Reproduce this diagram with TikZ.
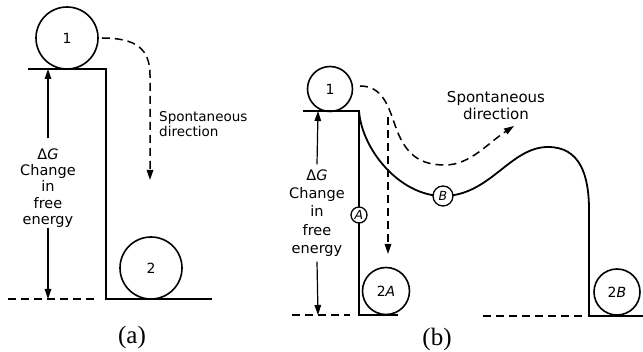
\documentclass[tikz,border=0pt]{standalone}
\usepackage{fontspec}
\setmainfont{DejaVu Sans}
\newfontfamily\capfont{Liberation Serif}
\usetikzlibrary{arrows.meta}

\tikzset{
  ln/.style={line width=1.8pt, line cap=butt},
  thin ln/.style={line width=1.2pt},
  dln/.style={line width=1.5pt, dash pattern=on 8pt off 5pt},
  tip/.style={-{Triangle[length=10pt,width=6.5pt]}},
  ball/.style={circle, draw, line width=1.6pt, inner sep=0pt, font=\fontsize{14}{14}\selectfont},
  tag/.style={circle, draw, fill=white, line width=1.3pt, inner sep=0pt, minimum size=16pt, font=\fontsize{12.5}{12.5}\selectfont\itshape},
  lbl/.style={inner sep=0pt, align=center},
  figcaption/.style={inner sep=0pt, font=\capfont\fontsize{25}{25}\selectfont}
}

\begin{document}
\begin{tikzpicture}[x=1pt, y=-1pt]
\useasboundingbox[fill=white] (0,0) rectangle (643,352);

% ---------------- (a): a single downhill step ----------------
\draw[ln] (28,69) -- (106,69) -- (106,299) -- (212,299);
\draw[dln] (8,299) -- (97,299);

\node[ball, minimum size=62pt] (b1a) at (67,38) {1};
\node[ball, minimum size=62pt] (b2a) at (151,268) {2};

\node[lbl, font=\fontsize{14.5}{16.3}\selectfont] (dga) at (48,188)
  {Δ\textit{G}\\Change\\in\\free\\energy};
\coordinate (topa) at (48,69);
\coordinate (bota) at (48,299);
\draw[thin ln, tip] ([yshift=10pt]dga.north) -- (topa);
\draw[thin ln, tip] (dga.south) -- (bota);

\coordinate (tipa) at (150,180);
\draw[dln, tip] ([xshift=3pt]b1a.east) .. controls (135,38) and (150,48) .. (150,75) -- (tipa);
\node[lbl, align=left, anchor=north west, font=\fontsize{13.5}{15}\selectfont] (spa) at (159,111)
  {Spontaneous\\direction};

\node[figcaption] (capa) at (132,337) {(a)};

% ---------------- (b): two paths downhill ----------------
\draw[ln] (303,111) -- (359,111) -- (359,315) -- (398,315);
\draw[ln] (359,111) .. controls (362,150) and (400,196) .. (443,196)
  .. controls (490,196) and (510,147) .. (548,147)
  .. controls (580,147) and (589,175) .. (589,210) -- (589,316) -- (643,316);
\draw[dln] (292,315) -- (350,315);
\draw[dln] (483,316) -- (583,316);

\node[ball, minimum size=45pt] (b1b) at (330,89) {1};
\node[ball, minimum size=47pt] (b2A) at (386,291) {2\textit{A}};
\node[ball, minimum size=46pt] (b2B) at (617,292) {2\textit{B}};

\node[tag] (tA) at (359,215) {A};
\node[tag, minimum size=20pt] (tB) at (443,196) {B};

\node[lbl, font=\fontsize{14.5}{18.3}\selectfont] (dgb) at (317,213)
  {Δ\textit{G}\\Change\\in\\free\\energy};
\coordinate (topb) at (318,111);
\coordinate (botb) at (318,315);
\draw[thin ln, tip] ([yshift=5pt]dgb.north) -- (topb);
\draw[thin ln, tip] ([yshift=-5pt]dgb.south) -- (botb);

\coordinate (startb) at (360,86);
\coordinate (tipb) at (514,126);
\draw[dln, tip] (startb) .. controls (382,86) and (388,105) .. (395,125)
  .. controls (405,155) and (420,165) .. (445,165)
  .. controls (470,165) and (488,143) .. (tipb);
\coordinate (dropb) at (388,117);
\coordinate (tipA) at (388,254);
\draw[dln, tip] (dropb) -- (tipA);

\node[lbl, anchor=north, font=\fontsize{15}{17}\selectfont] (spb) at (496,91)
  {Spontaneous\\direction};

\node[figcaption] (capb) at (437,339) {(b)};
\end{tikzpicture}
\end{document}
